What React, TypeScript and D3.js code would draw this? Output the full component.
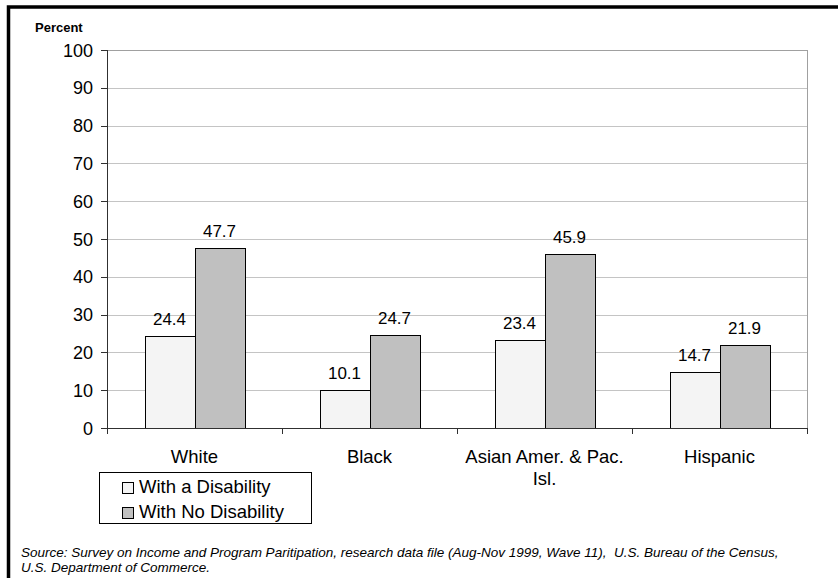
import React from "react";
import * as d3 from "d3";

const categories = ["White", "Black", "Asian Amer. & Pac. Isl.", "Hispanic"];
const categoryLines = [["White"], ["Black"], ["Asian Amer. & Pac.", "Isl."], ["Hispanic"]];
const withDisability = [24.4, 10.1, 23.4, 14.7];
const withNoDisability = [47.7, 24.7, 45.9, 21.9];
const seriesNames = ["With a Disability", "With No Disability"];
const yTicks = [0, 10, 20, 30, 40, 50, 60, 70, 80, 90, 100];
const sourceLines = [
  "Source: Survey on Income and Program Paritipation, research data file (Aug-Nov 1999, Wave 11),  U.S. Bureau of the Census,",
  "U.S. Department of Commerce.",
];

const W = 838;
const H = 578;
const FONT = "'Liberation Sans', Arial, Helvetica, sans-serif";
const colors = ["#f4f4f4", "#c0c0c0"];

export default function App() {
  const left = 107;
  const right = 807;
  const top = 50;
  const bottom = 428;
  const x = d3.scaleBand<string>().domain(categories).range([left, right]).padding(0);
  const y = d3.scaleLinear().domain([0, 100]).range([bottom, top]);
  const barW = 50;
  const series = [withDisability, withNoDisability];

  return (
    <svg
      width={W}
      height={H}
      style={{ position: "absolute", left: 0, top: 0, background: "#fff" }}
      fontFamily={FONT}
    >
      <rect x={0} y={0} width={W} height={H} fill="#fff" />
      {/* frame */}
      <rect x={8.5} y={7} width={W + 20} height={H + 20} fill="none" stroke="#000" strokeWidth={3.5} />

      {/* gridlines */}
      {yTicks.map((t) => (
        <line
          key={"g" + t}
          x1={left}
          x2={right}
          y1={Math.round(y(t)) + 0.5}
          y2={Math.round(y(t)) + 0.5}
          stroke={t === 100 ? "#a0a0a0" : "#c4c4c4"}
          strokeWidth={1}
        />
      ))}
      {/* plot right border */}
      <line x1={right + 0.5} x2={right + 0.5} y1={top} y2={bottom} stroke="#a0a0a0" />

      {/* bars */}
      {categories.map((c, i) => {
        const cx = (x(c) as number) + x.bandwidth() / 2;
        return series.map((s, j) => {
          const bx = cx - barW + j * barW;
          const yv = y(s[i]);
          return (
            <g key={c + j}>
              <rect
                x={Math.round(bx) + 0.5}
                y={Math.round(yv) + 0.5}
                width={barW}
                height={Math.round(bottom) - Math.round(yv)}
                fill={colors[j]}
                stroke="#000"
                strokeWidth={1}
              />
              <text x={bx + barW / 2} y={yv - 11} textAnchor="middle" fontSize={17} fill="#000">
                {s[i].toFixed(1)}
              </text>
            </g>
          );
        });
      })}

      {/* y axis */}
      <line x1={left + 0.5} x2={left + 0.5} y1={top} y2={bottom} stroke="#303030" />
      {yTicks.map((t) => (
        <g key={"t" + t}>
          <line x1={left - 6} x2={left} y1={Math.round(y(t)) + 0.5} y2={Math.round(y(t)) + 0.5} stroke="#303030" />
          <text x={93} y={y(t) + 6.5} textAnchor="end" fontSize={18} fill="#000">
            {t}
          </text>
        </g>
      ))}
      {/* x axis */}
      <line x1={left} x2={right + 1} y1={bottom + 0.5} y2={bottom + 0.5} stroke="#303030" />
      {[...categories.map((c) => x(c) as number), right].map((v, i) => (
        <line key={"xt" + i} x1={Math.round(v) + 0.5} x2={Math.round(v) + 0.5} y1={bottom} y2={bottom + 6} stroke="#303030" />
      ))}
      {categories.map((c, i) => (
        <text key={"cl" + c} x={(x(c) as number) + x.bandwidth() / 2} y={462.5} textAnchor="middle" fontSize={18.5} fill="#000">
          {categoryLines[i].map((ln, k) => (
            <tspan key={k} x={(x(c) as number) + x.bandwidth() / 2} dy={k === 0 ? 0 : 22.5}>
              {ln}
            </tspan>
          ))}
        </text>
      ))}

      <text x={35} y={32} fontSize={13} fontWeight="bold" fill="#000">
        Percent
      </text>

      {/* legend */}
      <rect x={99.5} y={472.5} width={212} height={51} fill="#fff" stroke="#000" />
      {seriesNames.map((n, j) => (
        <g key={n}>
          <rect x={122.5} y={482.5 + j * 25} width={11} height={11} fill={colors[j]} stroke="#000" />
          <text x={139} y={493 + j * 25} fontSize={18.5} fill="#000">
            {n}
          </text>
        </g>
      ))}

      {/* source */}
      {sourceLines.map((s, i) => (
        <text
          key={i}
          x={21}
          y={556.5 + i * 15.5}
          fontSize={13.5}
          fontStyle="italic"
          fill="#000"
          style={{ whiteSpace: "pre" }}
        >
          {s}
        </text>
      ))}
    </svg>
  );
}
